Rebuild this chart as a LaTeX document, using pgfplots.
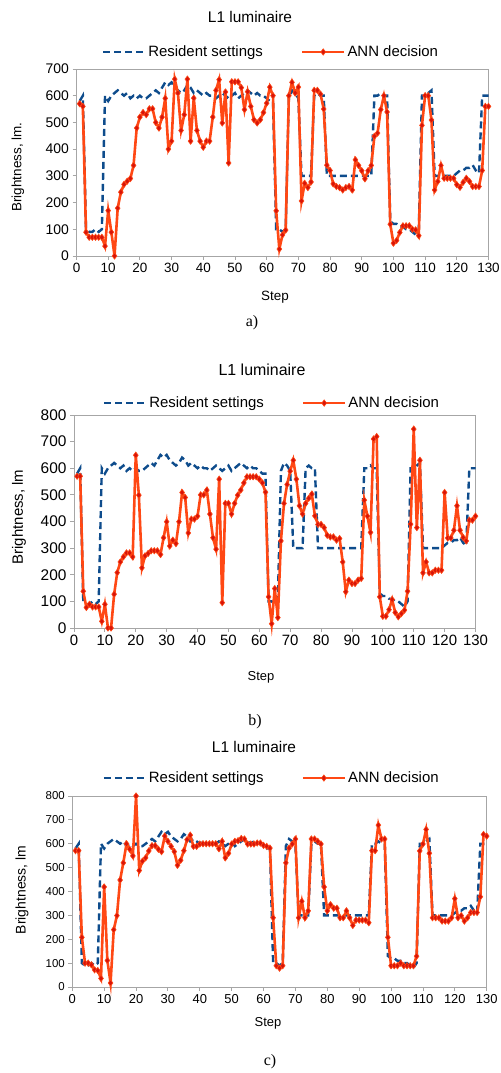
\documentclass[border=0pt]{standalone}
\usepackage{pgfplots}
\pgfplotsset{compat=1.18}
\usepackage{pgfplotstable}
\usepackage{fontspec}
\setmainfont{Liberation Sans}
\newfontfamily\seriffont{Liberation Serif}
\definecolor{resblue}{RGB}{14,76,140}
\definecolor{annorange}{RGB}{255,72,20}
\definecolor{annred}{RGB}{215,20,10}
\definecolor{axgray}{RGB}{166,166,166}
\newcommand{\fs}[1]{\fontsize{#1}{#1}\selectfont}

\pgfplotstableread{
x y
1 580
2 600
3 100
4 90
5 90
6 100
7 90
8 100
9 600
10 580
11 600
12 610
13 620
14 610
15 600
16 610
17 590
18 600
19 590
20 600
21 590
22 590
23 600
24 610
25 620
26 610
27 630
28 650
29 640
30 650
31 630
32 620
33 610
34 620
35 640
36 630
37 610
38 620
39 610
40 600
41 610
42 600
43 600
44 590
45 600
46 610
47 600
48 590
49 600
50 610
51 590
52 600
53 610
54 620
55 610
56 600
57 610
58 600
59 600
60 590
61 580
62 580
63 100
64 100
65 90
66 100
67 590
68 620
69 610
70 590
71 300
72 300
73 300
74 300
75 600
76 610
77 600
78 600
79 300
80 300
81 300
82 300
83 300
84 300
85 300
86 300
87 300
88 300
89 300
90 300
91 300
92 300
93 300
94 600
95 600
96 610
97 600
98 600
99 130
100 120
101 120
102 110
103 110
104 100
105 100
106 90
107 80
108 100
109 600
110 600
111 610
112 620
113 300
114 300
115 300
116 300
117 300
118 300
119 300
120 310
121 320
122 320
123 330
124 330
125 340
126 320
127 310
128 600
129 600
130 600
}\tabR

\pgfplotstableread{
x y
1 570
2 560
3 89
4 70
5 70
6 70
7 70
8 70
9 37
10 170
11 89
12 0
13 179
14 239
15 268
16 280
17 290
18 339
19 479
20 520
21 537
22 529
23 551
24 551
25 500
26 479
27 520
28 590
29 400
30 430
31 662
32 610
33 470
34 529
35 662
36 430
37 591
38 470
39 430
40 407
41 430
42 430
43 520
44 620
45 660
46 498
47 614
48 348
49 652
50 652
51 652
52 630
53 548
54 615
55 560
56 510
57 498
58 510
59 537
60 572
61 632
62 600
63 169
64 26
65 79
66 97
67 600
68 650
69 610
70 632
71 206
72 272
73 256
74 277
75 620
76 620
77 606
78 550
79 340
80 320
81 270
82 260
83 256
84 247
85 256
86 260
87 247
88 360
89 339
90 319
91 289
92 319
93 339
94 448
95 460
96 548
97 600
98 539
99 119
100 48
101 58
102 88
103 113
104 113
105 113
106 100
107 98
108 76
109 489
110 600
111 600
112 509
113 247
114 279
115 339
116 291
117 291
118 291
119 291
120 267
121 257
122 276
123 291
124 279
125 260
126 260
127 260
128 320
129 560
130 560
}\tabA

\pgfplotstableread{
x y
1 570
2 570
3 138
4 77
5 89
6 79
7 79
8 79
9 25
10 89
11 0
12 0
13 127
14 208
15 248
16 267
17 282
18 282
19 267
20 649
21 499
22 226
23 271
24 280
25 290
26 290
27 290
28 276
29 339
30 399
31 308
32 330
33 317
34 399
35 509
36 490
37 357
38 409
39 409
40 420
41 500
42 500
43 518
44 428
45 339
46 296
47 559
48 95
49 468
50 468
51 428
52 468
53 499
54 518
55 545
56 568
57 568
58 568
59 568
60 559
61 545
62 510
63 117
64 16
65 148
66 39
67 327
68 468
69 539
70 589
71 630
72 559
73 459
74 428
75 468
76 487
77 503
78 421
79 389
80 389
81 377
82 348
83 342
84 342
85 330
86 336
87 248
88 136
89 180
90 167
91 167
92 180
93 186
94 480
95 420
96 359
97 710
98 719
99 117
100 44
101 44
102 69
103 107
104 58
105 42
106 54
107 67
108 138
109 390
110 747
111 377
112 630
113 207
114 248
115 207
116 207
117 217
118 217
119 217
120 509
121 338
122 338
123 367
124 459
125 367
126 340
127 327
128 405
129 405
130 420
}\tabB

\pgfplotstableread{
x y
1 571
2 571
3 208
4 100
5 100
6 93
7 72
8 69
9 36
10 419
11 111
12 17
13 240
14 299
15 448
16 520
17 600
18 577
19 549
20 800
21 488
22 527
23 541
24 570
25 592
26 592
27 577
28 567
29 632
30 610
31 589
32 567
33 510
34 531
35 571
36 617
37 636
38 589
39 589
40 599
41 600
42 600
43 600
44 600
45 600
46 579
47 610
48 541
49 560
50 599
51 610
52 613
53 622
54 620
55 599
56 599
57 599
58 603
59 603
60 593
61 589
62 582
63 290
64 89
65 79
66 89
67 520
68 582
69 599
70 620
71 290
72 359
73 290
74 319
75 620
76 620
77 610
78 599
79 419
80 319
81 345
82 330
83 330
84 290
85 290
86 319
87 290
88 258
89 280
90 280
91 280
92 280
93 269
94 571
95 571
96 678
97 620
98 620
99 208
100 89
101 89
102 89
103 100
104 89
105 89
106 89
107 89
108 129
109 570
110 599
111 660
112 560
113 290
114 290
115 290
116 276
117 276
118 276
119 290
120 370
121 290
122 299
123 276
124 290
125 312
126 312
127 312
128 378
129 639
130 632
}\tabC

\pgfplotsset{
  lumi/.style={
    scale only axis, anchor=south west,
    xmin=0, xmax=130, ymin=0,
    xtick={0,10,...,130}, ytick distance=100,
    axis line style={axgray, line width=0.9bp},
    tick style={axgray, line width=0.9bp},
    tick align=outside, tick pos=left, major tick length=4bp,
    clip=false,
    /pgf/number format/assume math mode=true,
    legend columns=2,
    legend style={draw=none, fill=none, anchor=center, font=\fs{15},
      /tikz/every even column/.append style={column sep=36bp}},
    legend image code/.code={\draw[mark repeat=2,mark phase=2,##1] plot coordinates {(0bp,0bp) (21bp,0bp) (42bp,0bp)};},
  },
  resline/.style={resblue, line width=2.4bp, dash pattern=on 7bp off 4bp},
  annline/.style={annorange, line width=2.6bp, mark=diamond*, mark size=3.2bp,
    mark options={solid, fill=annred, draw=annorange, line width=0.6bp}},
}

\begin{document}
\begin{tikzpicture}[x=1bp,y=1bp]
\path[use as bounding box] (0,0) rectangle (501,1073);

% ---------- a) ----------
\begin{axis}[lumi, at={(76.5bp,817bp)}, width=412bp, height=187bp, ymax=700,
  yticklabel style={font=\fs{14}}, xticklabel style={font=\fs{13.5}},
  legend style={at={(0.472,1.091)}}]
\addplot[resline] table[x=x,y=y]{\tabR};
\addlegendentry{Resident settings}
\addplot[annline] table[x=x,y=y]{\tabA};
\addlegendentry{ANN decision}
\end{axis}
\node[font=\fs{15.5}] at (250,1056) {L1 luminaire};
\node[font=\fs{13.5}, rotate=90] at (18,906) {Brightness, lm.};
\node[font=\fs{13.5}] at (275,776) {Step};
\node[font=\seriffont\fs{16}] at (252,750) {a)};

% ---------- b) ----------
\begin{axis}[lumi, at={(74bp,445bp)}, width=401.5bp, height=213bp, ymax=800,
  yticklabel style={font=\fs{15.5}}, xticklabel style={font=\fs{15}},
  legend style={at={(0.493,1.056)}}]
\addplot[resline] table[x=x,y=y]{\tabR};
\addlegendentry{Resident settings}
\addplot[annline] table[x=x,y=y]{\tabB};
\addlegendentry{ANN decision}
\end{axis}
\node[font=\fs{16}] at (262,703) {L1 luminaire};
\node[font=\fs{15}, rotate=90] at (19,556) {Brightness, lm};
\node[font=\fs{13}] at (261,396) {Step};
\node[font=\seriffont\fs{16}] at (255,351) {b)};

% ---------- c) ----------
\begin{axis}[lumi, at={(72.3bp,86bp)}, width=414.4bp, height=191bp, ymax=800,
  yticklabel style={font=\fs{11.5}}, xticklabel style={font=\fs{13}},
  legend style={at={(0.481,1.094)}}]
\addplot[resline] table[x=x,y=y]{\tabR};
\addlegendentry{Resident settings}
\addplot[annline] table[x=x,y=y]{\tabC};
\addlegendentry{ANN decision}
\end{axis}
\node[font=\fs{15.5}] at (254,326) {L1 luminaire};
\node[font=\fs{14}, rotate=90] at (22,183) {Brightness, lm};
\node[font=\fs{13}] at (268,50) {Step};
\node[font=\seriffont\fs{16}] at (270,11) {c)};
\end{tikzpicture}
\end{document}
